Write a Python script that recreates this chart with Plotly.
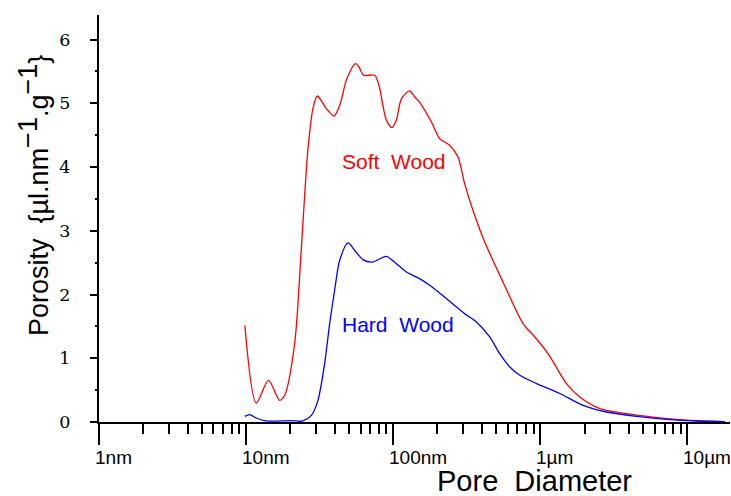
import math
import plotly.graph_objects as go

# Pore diameter in nm
soft_x = [9.81, 11.73, 14.2, 16.9, 18.3, 21.4, 23.7, 26.3, 28.5, 30.5, 35.1, 39.6, 43.3, 48.5,
          55.6, 58.5, 63.0, 74.8, 80.0, 89.9, 98.1, 105, 114, 129.5, 140, 151, 182, 207, 242,
          276, 306, 358, 419, 558, 764, 918, 1130, 1507, 1857, 2540, 3857, 5852, 8890, 12800, 18000]
soft_y = [1.517, 0.298, 0.654, 0.34, 0.419, 1.235, 2.694, 4.263, 4.922, 5.115, 4.918, 4.80, 4.969, 5.388,
          5.624, 5.57, 5.44, 5.44, 5.283, 4.734, 4.62, 4.734, 5.075, 5.194, 5.10, 5.02, 4.707, 4.447, 4.342,
          4.158, 3.741, 3.243, 2.824, 2.197, 1.544, 1.334, 1.073, 0.603, 0.392, 0.21, 0.132, 0.078, 0.038, 0.016, 0.005]

hard_x = [9.81, 10.6, 11.73, 13.7, 19.8, 24.3, 27.8, 30.8, 34.2, 37.0, 40.0, 43.3, 49.3, 54.7, 62.3,
          72.2, 89.9, 102, 123, 151, 177, 230, 306, 368, 453, 530, 621, 726, 942, 1358, 1955, 2820,
          4510, 7550, 11550, 18000]
hard_y = [0.089, 0.116, 0.063, 0.016, 0.022, 0.016, 0.105, 0.34, 0.916, 1.544, 2.067, 2.537, 2.809, 2.694, 2.548,
          2.51, 2.60, 2.51, 2.354, 2.25, 2.145, 1.936, 1.70, 1.569, 1.334, 1.073, 0.863, 0.733, 0.603, 0.447, 0.262, 0.157,
          0.089, 0.038, 0.016, 0.005]

x_tickvals = [1, 10, 100, 1000, 10000]
x_ticktext = ["1nm", "10nm", "100nm", "1\u00b5m", "10\u00b5m"]
x_minor = [m * 10 ** k for k in range(5) for m in range(2, 10) if m * 10 ** k < 20000]
y_tickvals = [0, 1, 2, 3, 4, 5, 6]

SANS = "Liberation Sans, Arial, sans-serif"
SERIF = "DejaVu Serif, serif"

fig = go.Figure()
fig.add_trace(go.Scatter(x=soft_x, y=soft_y, mode="lines", name="Soft Wood",
                         line=dict(color="#ff0000", width=1.3, shape="spline", smoothing=0.8)))
fig.add_trace(go.Scatter(x=hard_x, y=hard_y, mode="lines", name="Hard Wood",
                         line=dict(color="#0000ff", width=1.3, shape="spline", smoothing=0.8)))

# plot area: left 99, right 730, top 15, bottom 422
PL, PW, PB, PH = 99, 631, 422, 407

annotations = []
for v, t in zip(x_tickvals, x_ticktext):
    annotations.append(dict(text=t, x=math.log10(v), xref="x", y=(PB - 446) / PH, yref="paper",
                            xanchor="left", yanchor="top", xshift=-5, showarrow=False, borderpad=0,
                            font=dict(family=SANS, size=19, color="black")))
annotations += [
    dict(text="Soft  Wood", x=2.005, y=4.09, xref="x", yref="y", showarrow=False,
         font=dict(family=SANS, size=21, color="#ff0000")),
    dict(text="Hard  Wood", x=2.03, y=1.53, xref="x", yref="y", showarrow=False,
         font=dict(family=SANS, size=21, color="#0000ff")),
    dict(text="Pore  Diameter", x=(534.5 - PL) / PW, y=(PB - 481) / PH, xref="paper", yref="paper",
         xanchor="center", yanchor="middle", showarrow=False, borderpad=0,
         font=dict(family=SANS, size=29, color="black")),
    dict(text="Porosity  {\u00b5l.nm<sup><span style='font-size:27px'>\u22121</span></sup>"
              ".g<sup><span style='font-size:27px'>\u22121</span></sup>}",
         x=(34 - PL) / PW, y=(PB - 196) / PH,
         xref="paper", yref="paper", xanchor="center", yanchor="middle", textangle=-90,
         showarrow=False, font=dict(family=SANS, size=27, color="black")),
]

fig.update_layout(
    width=731, height=496,
    margin=dict(l=PL, r=1, t=15, b=496 - PB),
    paper_bgcolor="white", plot_bgcolor="white",
    showlegend=False,
    xaxis=dict(type="log", range=[0, 4.29], showgrid=False, zeroline=False,
               showline=True, linecolor="black", linewidth=2,
               tickmode="array", tickvals=x_tickvals, showticklabels=False,
               ticks="outside", ticklen=21, tickwidth=2, tickcolor="black",
               minor=dict(tickmode="array", tickvals=x_minor, ticks="outside",
                          ticklen=10, tickwidth=1.6, tickcolor="black")),
    yaxis=dict(range=[0, 6.386], showgrid=False, zeroline=False,
               showline=True, linecolor="black", linewidth=2,
               tickmode="array", tickvals=y_tickvals,
               ticks="outside", ticklen=7, tickwidth=2, tickcolor="black",
               ticklabelstandoff=16,
               tickfont=dict(family=SERIF, size=17.5, color="black"),
               minor=dict(dtick=0.5, ticks="outside", ticklen=2, tickwidth=1.5, tickcolor="black")),
    annotations=annotations,
)

fig.write_html("out.html")
